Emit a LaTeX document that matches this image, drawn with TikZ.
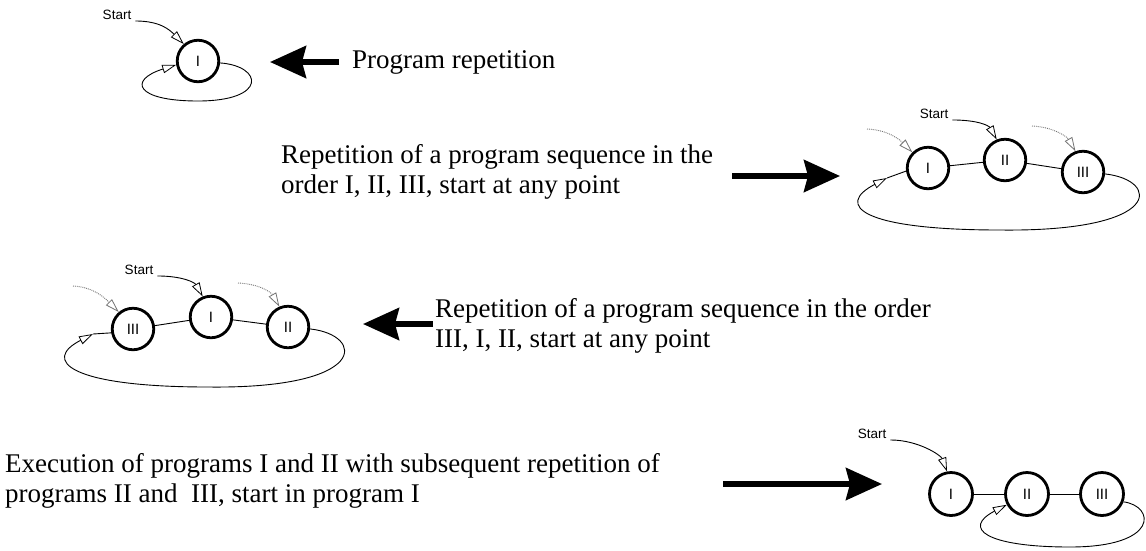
\documentclass[tikz,border=0pt]{standalone}
\usepackage{fontspec}
\setmainfont{Liberation Serif}
\newfontfamily\diagsans{Liberation Sans}
\usetikzlibrary{arrows.meta}
\begin{document}
\begin{tikzpicture}[x=1pt,y=-1pt,
  prog/.style={circle,draw,line width=2.8pt,minimum size=41.5pt,inner sep=0pt,font=\diagsans\fontsize{15}{15}\selectfont},
  bigprog/.style={prog,minimum size=43pt},
  startlbl/.style={font=\diagsans\fontsize{13.5}{14}\selectfont,inner xsep=4pt,inner ysep=1pt},
  desc/.style={font=\fontsize{27}{30}\selectfont,anchor=base west,inner sep=0pt},
  link/.style={line width=0.9pt},
  ringarrow/.style={link,-{Triangle[fill=white,length=14pt,width=8.5pt,line width=0.8pt]}},
  ghost/.style={line width=0.9pt,densely dotted,black!55,-{Triangle[fill=white,length=14pt,width=8.5pt,line width=0.8pt]}},
  bigarrow/.style={line width=5.5pt,-{Stealth[length=36pt,width=32pt,inset=4pt]}},
]
\useasboundingbox (0,0) rectangle (1146,550);

% ---------- Diagram 1: program repetition
\node[prog] (a1) at (198,61) {I};
\node[startlbl] (s1) at (117,15) {Start};
\draw[ringarrow] (s1.south east) .. controls +(25,0) and +(-14,-14) .. (a1.130);
\draw[ringarrow] (a1.-5) .. controls (263,66) and (268,101) .. (198,101) .. controls (135,101) and (128,80) .. (a1.190);
\coordinate (p1from) at (339,62);
\coordinate (p1to) at (270,62);
\draw[bigarrow] (p1from) -- (p1to);
\node[desc] (t1) at (352,68) {Program repetition};

% ---------- Diagram 2: I, II, III
\node[prog] (b1) at (928,168) {I};
\node[prog] (b2) at (1005,160) {II};
\node[prog] (b3) at (1083,172) {III};
\draw[link] (b1) -- (b2);
\draw[link] (b2) -- (b3);
\node[startlbl] (s2) at (934,114) {Start};
\draw[ringarrow] (s2.south east) .. controls +(25,0) and +(-8,-14) .. (b2.112);
\coordinate (g2a) at (867,129);
\coordinate (g2b) at (1032,126);
\draw[ghost] (g2a) .. controls +(22,1) and +(-12,-12) .. (b1.135);
\draw[ghost] (g2b) .. controls +(22,1) and +(-8,-14) .. (b3.110);
\coordinate (r2) at (887,178);
\draw[link] (r2) -- (b1.188);
\draw[ringarrow] (b3.-5) .. controls (1160,180) and (1165,232) .. (1000,230) .. controls (860,230) and (835,205) .. (r2);
\coordinate (p2from) at (732,176);
\coordinate (p2to) at (840,176);
\draw[bigarrow] (p2from) -- (p2to);
\node[desc] (t2a) at (281,163) {Repetition of a program sequence in the};
\node[desc] (t2b) at (281,193) {order I, II, III, start at any point};

% ---------- Diagram 3: III, I, II
\node[prog] (c3) at (133,329) {III};
\node[prog] (c1) at (211,317) {I};
\node[prog] (c2) at (288,327) {II};
\draw[link] (c3) -- (c1);
\draw[link] (c1) -- (c2);
\node[startlbl] (s3) at (139,270) {Start};
\draw[ringarrow] (s3.south east) .. controls +(25,0) and +(-8,-14) .. (c1.112);
\coordinate (g3a) at (73,286);
\coordinate (g3b) at (238,283);
\draw[ghost] (g3a) .. controls +(22,1) and +(-12,-12) .. (c3.130);
\draw[ghost] (g3b) .. controls +(22,1) and +(-8,-14) .. (c2.113);
\coordinate (r3) at (93,334);
\draw[link] (r3) -- (c3.190);
\draw[ringarrow] (c2.-5) .. controls (365,335) and (370,389) .. (208,387) .. controls (68,387) and (42,360) .. (r3);
\coordinate (p3from) at (433,324);
\coordinate (p3to) at (363,324);
\draw[bigarrow] (p3from) -- (p3to);
\node[desc] (t3a) at (435,317) {Repetition of a program sequence in the order};
\node[desc] (t3b) at (435,347) {III, I, II, start at any point};

% ---------- Diagram 4: I then II, III repeated
\node[bigprog] (d1) at (951,494) {I};
\node[bigprog] (d2) at (1027,494) {II};
\node[bigprog] (d3) at (1102,494) {III};
\draw[link] (d1) -- (d2);
\draw[link] (d2) -- (d3);
\node[startlbl] (s4) at (872,434) {Start};
\draw[ringarrow] (s4.south east) .. controls +(28,0) and +(-6,-16) .. (d1.100);
\draw[ringarrow] (d3.-20) .. controls (1155,506) and (1160,547) .. (1070,547) .. controls (985,547) and (962,528) .. (d2.208);
\coordinate (p4from) at (723,484);
\coordinate (p4to) at (882,484);
\draw[bigarrow] (p4from) -- (p4to);
\node[desc] (t4a) at (5,472) {Execution of programs I and II with subsequent repetition of};
\node[desc] (t4b) at (5,502) {programs II and\ \ III, start in program I};
\end{tikzpicture}
\end{document}
